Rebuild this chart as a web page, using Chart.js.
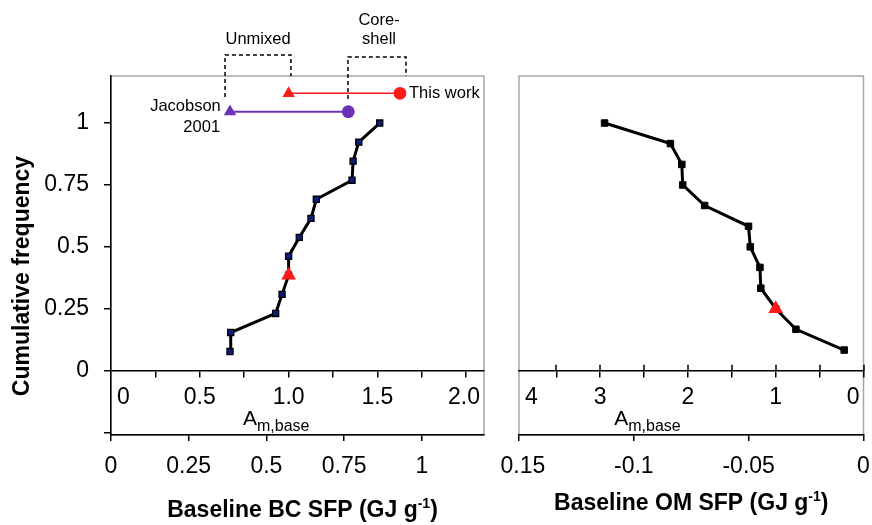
<!DOCTYPE html>
<html>
<head>
<meta charset="utf-8">
<script src="https://cdn.jsdelivr.net/npm/chart.js@4.4.1/dist/chart.umd.min.js"></script>
<style>
  html, body { margin: 0; padding: 0; background: #fff; }
  #wrap { position: relative; width: 872px; height: 525px; overflow: hidden; }
  canvas { position: absolute; top: 0; }
  #bc { left: 0; }
  #om { left: 500px; }
</style>
</head>
<body>
<div id="wrap">
  <canvas id="bc" width="500" height="525"></canvas>
  <canvas id="om" width="372" height="525"></canvas>
</div>
<script>
// Cumulative frequency of baseline A_m (left: BC, right: OM).

// --- data ---
const bcAm   = [0.67, 0.674, 0.927, 0.963, 1.0, 1.0, 1.06, 1.126, 1.156, 1.357, 1.363, 1.395, 1.513];
const bcFreq = [0.077, 0.154, 0.231, 0.308, 0.385, 0.462, 0.538, 0.615, 0.692, 0.769, 0.846, 0.923, 1.0];
const bcThisWork = { am: 1.0, freq: 0.385 };

const omAm   = [2.95, 2.20, 2.07, 2.06, 1.81, 1.31, 1.29, 1.18, 1.17, 1.0, 0.77, 0.22];
const omFreq = [1.0, 0.917, 0.833, 0.75, 0.667, 0.583, 0.5, 0.417, 0.333, 0.25, 0.167, 0.083];
const omThisWork = { am: 1.0, freq: 0.25 };

// A_m range, unmixed -> core-shell
const rangeThisWork = [1.0, 1.627];
const rangeJacobson = [0.67, 1.336];

// --- ticks ---
const yTicks      = [-0.25, 0, 0.25, 0.5, 0.75, 1];
const bcAmTicks   = [0.25, 0.5, 0.75, 1, 1.25, 1.5, 1.75, 2];
const bcAmLabels  = [0, 0.5, 1, 1.5, 2];
const bcAmText    = ["0", "0.5", "1.0", "1.5", "2.0"];
const bcSfpTicks  = [0, 0.25, 0.5, 0.75, 1];
const omAmTicks   = [0, 0.5, 1, 1.5, 2, 2.5, 3, 3.5];
const omAmLabels  = [4, 3, 2, 1, 0];
const omAmText    = ["4", "3", "2", "1", "0"];
const omSfpTicks  = [-0.15, -0.1, -0.05, 0];

// --- layout / style ---
const FONT = '"Liberation Sans", Arial, sans-serif';
const RED = "#ff1a1a", PURPLE = "#6b33b3", NAVY = "#0d1c7a";
const Y_MIN = -0.26, Y_MAX = 1.19;
const ROW_THIS = 1.12, ROW_JAC = 1.046;

const brackets = [
  { x1: 0.642, x2: 1.013, top: 1.275, left: 1.105, right: Y_MAX },
  { x1: 1.334, x2: 1.661, top: 1.267, left: 1.097, right: Y_MAX },
];
const bcNotes = [
  { text: "Unmixed",   x: 0.828, y: 1.339, align: "center" },
  { text: "Core-",     x: 1.509, y: 1.416, align: "center" },
  { text: "shell",     x: 1.509, y: 1.339, align: "center" },
  { text: "This work", x: 1.678, y: 1.121, align: "left" },
  { text: "Jacobson",  x: 0.618, y: 1.065, align: "right" },
  { text: "2001",      x: 0.614, y: 0.984, align: "right" },
];

const ticksFrom = (arr) => (s) => { s.ticks = arr.map((v) => ({ value: v })); };

// text run with sub/superscript pieces
function rich(ctx, parts, x, y, align) {
  let w = 0;
  parts.forEach((p) => { ctx.font = p.font; p.w = ctx.measureText(p.t).width; w += p.w; });
  let cx = align === "center" ? x - w / 2 : align === "right" ? x - w : x;
  ctx.textAlign = "left";
  ctx.textBaseline = "alphabetic";
  parts.forEach((p) => { ctx.font = p.font; ctx.fillText(p.t, cx, y + (p.dy || 0)); cx += p.w; });
}

function amRow(ctx, sx, a, zeroY, values, texts, nameAt) {
  ctx.fillStyle = "#000";
  ctx.font = `23px ${FONT}`;
  ctx.textAlign = "center";
  ctx.textBaseline = "middle";
  values.forEach((v, i) => {
    const w = ctx.measureText(texts[i]).width;
    let px = sx.getPixelForValue(v);
    px = Math.min(Math.max(px, a.left + 6 + w / 2), a.right - 4 - w / 2);
    ctx.fillText(texts[i], px, zeroY + 27);
  });
  rich(ctx, [
    { t: "A", font: `21px ${FONT}` },
    { t: "m,base", font: `16px ${FONT}`, dy: 6 },
  ], sx.getPixelForValue(nameAt), zeroY + 54, "left");
}

function xTitle(ctx, label, cx, base) {
  ctx.fillStyle = "#000";
  rich(ctx, [
    { t: label + " (GJ g", font: `bold 23px ${FONT}` },
    { t: "-1", font: `bold 14px ${FONT}`, dy: -9 },
    { t: ")", font: `bold 23px ${FONT}` },
  ], cx, base, "center");
}

const frame = {
  id: "frame",
  beforeDraw(chart) {
    const { ctx, chartArea: a } = chart;
    ctx.save();
    ctx.strokeStyle = "#a6a6a6";
    ctx.lineWidth = 1.5;
    ctx.strokeRect(a.left, a.top, a.right - a.left, a.bottom - a.top);
    ctx.restore();
  },
};

const bcExtras = {
  id: "bcExtras",
  afterDraw(chart) {
    const { ctx, chartArea: a, scales: { x, y } } = chart;
    const zeroY = y.getPixelForValue(0);
    ctx.save();
    amRow(ctx, x, a, zeroY, bcAmLabels, bcAmText, 0.743);
    xTitle(ctx, "Baseline BC SFP", (a.left + a.right) / 2 + 5, 517);

    // y title
    ctx.save();
    ctx.translate(23, 276);
    ctx.rotate(-Math.PI / 2);
    ctx.font = `bold 23px ${FONT}`;
    ctx.textAlign = "center";
    ctx.textBaseline = "middle";
    ctx.fillText("Cumulative frequency", 0, 0);
    ctx.restore();

    // dashed brackets
    ctx.strokeStyle = "#000";
    ctx.lineWidth = 1.5;
    ctx.setLineDash([4, 3]);
    brackets.forEach((b) => {
      ctx.beginPath();
      ctx.moveTo(x.getPixelForValue(b.x1), y.getPixelForValue(b.left));
      ctx.lineTo(x.getPixelForValue(b.x1), y.getPixelForValue(b.top));
      ctx.lineTo(x.getPixelForValue(b.x2), y.getPixelForValue(b.top));
      ctx.lineTo(x.getPixelForValue(b.x2), y.getPixelForValue(b.right));
      ctx.stroke();
    });
    ctx.setLineDash([]);

    ctx.font = `16.5px ${FONT}`;
    ctx.textBaseline = "middle";
    bcNotes.forEach((n) => {
      ctx.textAlign = n.align;
      ctx.fillText(n.text, x.getPixelForValue(n.x), y.getPixelForValue(n.y));
    });
    ctx.restore();
  },
};

const omExtras = {
  id: "omExtras",
  afterDraw(chart) {
    const { ctx, chartArea: a, scales: { x, y } } = chart;
    const zeroY = y.getPixelForValue(0);
    ctx.save();
    // ticks on the zero line cross it
    ctx.strokeStyle = "#000";
    ctx.lineWidth = 1.5;
    x.ticks.forEach((t) => {
      const px = Math.round(x.getPixelForValue(t.value));
      ctx.beginPath();
      ctx.moveTo(px, zeroY - 6);
      ctx.lineTo(px, zeroY);
      ctx.stroke();
    });
    amRow(ctx, x, a, zeroY, omAmLabels, omAmText, 2.84);
    xTitle(ctx, "Baseline OM SFP", (a.left + a.right) / 2, 510);
    ctx.restore();
  },
};

function panel(id, o) {
  const tickFont = { family: FONT, size: 23 };
  return new Chart(document.getElementById(id), {
    type: "scatter",
    data: { datasets: o.datasets },
    options: {
      responsive: false,
      animation: false,
      events: [],
      layout: { padding: o.padding },
      plugins: { legend: { display: false }, tooltip: { enabled: false } },
      scales: {
        x: {
          type: "linear", min: 0, max: o.amMax, reverse: o.reverse, position: { y: 0 },
          afterBuildTicks: ticksFrom(o.amTicks),
          afterFit: (s) => { s.paddingLeft = 0; s.paddingRight = 0; },
          ticks: { display: false },
          grid: { drawOnChartArea: false, tickLength: 6, color: "#000", lineWidth: 1.5 },
          border: { color: "#000", width: 1.5 },
        },
        x2: {
          type: "linear", min: o.sfpMin, max: o.sfpMax, position: "bottom",
          afterBuildTicks: ticksFrom(o.sfpTicks),
          afterFit: (s) => { s.height = 90; s.paddingLeft = 0; s.paddingRight = 0; },
          ticks: { font: tickFont, color: "#000", padding: 12, maxRotation: 0, autoSkip: false,
            callback: (v) => String(+v.toFixed(2)) },
          grid: { drawOnChartArea: false, tickLength: 6, color: "#000", lineWidth: 1.5 },
          border: { color: "#000", width: 1.5 },
        },
        y: {
          type: "linear", min: Y_MIN, max: Y_MAX, position: "left", display: o.showY,
          afterBuildTicks: ticksFrom(yTicks),
          afterFit: (s) => { s.width = o.showY ? 111 : 0; s.paddingTop = 0; s.paddingBottom = 0; },
          ticks: { font: tickFont, color: "#000", padding: 15, autoSkip: false,
            callback: (v) => (v < 0 ? "" : String(v)) },
          grid: { drawOnChartArea: false, tickLength: 7, color: "#000", lineWidth: 1.5 },
          border: { color: "#000", width: 1.5 },
        },
      },
    },
    plugins: [frame, o.extras],
  });
}

const pts = (xs, ys) => xs.map((v, i) => ({ x: v, y: ys[i] }));
const row = (xs, yv) => xs.map((v) => ({ x: v, y: yv }));

panel("bc", {
  padding: { left: 0, top: 76, right: 16, bottom: 0 },
  amMax: 2.1, reverse: false, amTicks: bcAmTicks,
  sfpMin: 0, sfpMax: 1.2, sfpTicks: bcSfpTicks,
  showY: true, extras: bcExtras,
  datasets: [
    { data: [{ x: bcThisWork.am, y: bcThisWork.freq }], pointStyle: "triangle", pointRadius: 8.5,
      pointBackgroundColor: RED, pointBorderWidth: 0, order: 0 },
    { data: pts(bcAm, bcFreq), showLine: true, borderColor: "#000", borderWidth: 3,
      pointStyle: "rect", pointRadius: 4.3, pointBackgroundColor: NAVY,
      pointBorderColor: "#000", pointBorderWidth: 1.3, order: 1 },
    { data: row(rangeThisWork, ROW_THIS), showLine: true, borderColor: RED, borderWidth: 1.5,
      pointStyle: ["triangle", "circle"], pointRadius: [7.2, 6.4],
      pointBackgroundColor: RED, pointBorderWidth: 0, order: 0 },
    { data: row(rangeJacobson, ROW_JAC), showLine: true, borderColor: PURPLE, borderWidth: 2,
      pointStyle: ["triangle", "circle"], pointRadius: [7.2, 6.4],
      pointBackgroundColor: PURPLE, pointBorderWidth: 0, order: 0 },
  ],
});

panel("om", {
  padding: { left: 19, top: 76, right: 6, bottom: 0 },
  amMax: 3.925, reverse: true, amTicks: omAmTicks,
  sfpMin: -0.15, sfpMax: 0, sfpTicks: omSfpTicks,
  showY: false, extras: omExtras,
  datasets: [
    { data: [{ x: omThisWork.am, y: omThisWork.freq }], pointStyle: "triangle", pointRadius: 8.5,
      pointBackgroundColor: RED, pointBorderWidth: 0, order: 0 },
    { data: pts(omAm, omFreq), showLine: true, borderColor: "#000", borderWidth: 3,
      pointStyle: "rect", pointRadius: 4.6, pointBackgroundColor: "#000",
      pointBorderColor: "#000", pointBorderWidth: 1, order: 1 },
  ],
});
</script>
</body>
</html>
